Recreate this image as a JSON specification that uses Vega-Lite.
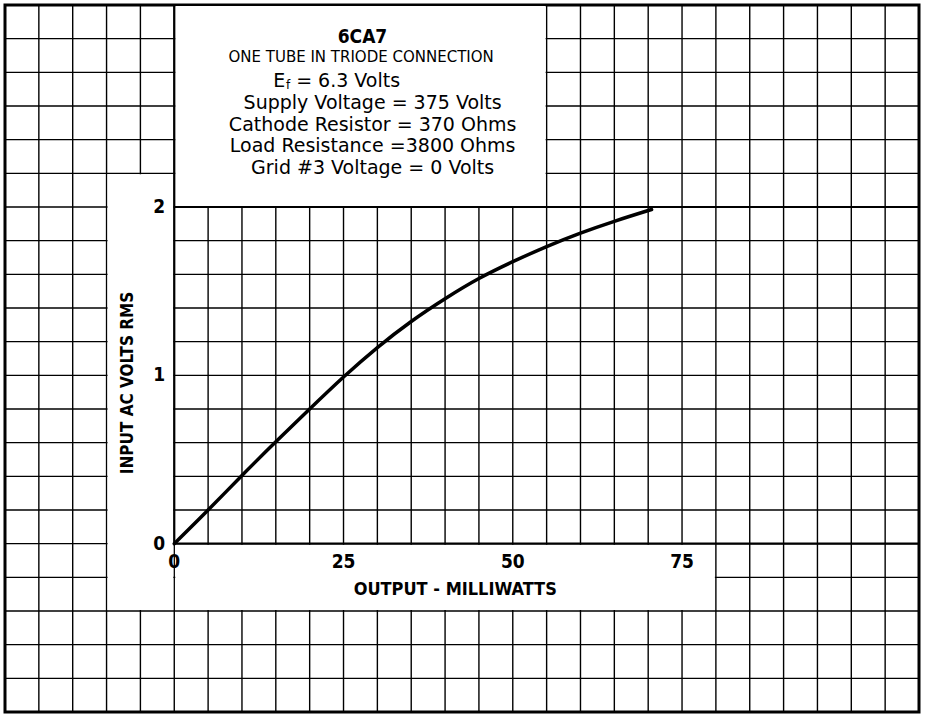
{
  "$schema": "https://vega.github.io/schema/vega-lite/v6.json",
  "autosize": {"type": "none"},
  "width": 914,
  "height": 707,
  "padding": {"left": 5, "top": 5, "right": 9, "bottom": 4},
  "background": "white",
  "data": {"values": [{}]},
  "config": {
    "view": {"stroke": "#000", "strokeWidth": 3},
    "axis": {"disable": true},
    "text": {"color": "#000"}
  },
  "datasets": {
    "curve": [
      {"mw": 0, "v": 0},
      {"mw": 5, "v": 0.2},
      {"mw": 10, "v": 0.405},
      {"mw": 15, "v": 0.605},
      {"mw": 20, "v": 0.8},
      {"mw": 25, "v": 0.99},
      {"mw": 30, "v": 1.165},
      {"mw": 35, "v": 1.32},
      {"mw": 40, "v": 1.455},
      {"mw": 45, "v": 1.575},
      {"mw": 50, "v": 1.675},
      {"mw": 55, "v": 1.765},
      {"mw": 60, "v": 1.845},
      {"mw": 65, "v": 1.915},
      {"mw": 70.5, "v": 1.985}
    ],
    "vgrid": [{"mw": -20}, {"mw": -15}, {"mw": -10}, {"mw": -5}, {"mw": 0}, {"mw": 5}, {"mw": 10}, {"mw": 15}, {"mw": 20}, {"mw": 25}, {"mw": 30}, {"mw": 35}, {"mw": 40}, {"mw": 45}, {"mw": 50}, {"mw": 55}, {"mw": 60}, {"mw": 65}, {"mw": 70}, {"mw": 75}, {"mw": 80}, {"mw": 85}, {"mw": 90}, {"mw": 95}, {"mw": 100}, {"mw": 105}],
    "hgrid": [{"v": -0.8}, {"v": -0.6}, {"v": -0.4}, {"v": -0.2}, {"v": 0}, {"v": 0.2}, {"v": 0.4}, {"v": 0.6}, {"v": 0.8}, {"v": 1}, {"v": 1.2}, {"v": 1.4}, {"v": 1.6}, {"v": 1.8}, {"v": 2}, {"v": 2.2}, {"v": 2.4}, {"v": 2.6}, {"v": 2.8}, {"v": 3}],
    "blank": [
      {"x1": -10, "x2": 0, "y1": -0.4, "y2": 2.2},
      {"x1": 0, "x2": 80, "y1": -0.4, "y2": 0},
      {"x1": 0, "x2": 55, "y1": 2, "y2": 3.2}
    ],
    "xticks": [{"mw": 0}, {"mw": 25}, {"mw": 50}, {"mw": 75}],
    "yticks": [{"v": 0}, {"v": 1}, {"v": 2}]
  },
  "layer": [
    {
      "data": {"name": "vgrid"},
      "mark": {"type": "rule", "color": "#000", "strokeWidth": 1.4},
      "encoding": {
        "x": {"field": "mw", "type": "quantitative", "scale": {"domain": [-25, 110], "nice": false, "zero": false}}
      }
    },
    {
      "data": {"name": "hgrid"},
      "mark": {"type": "rule", "color": "#000", "strokeWidth": 1.4},
      "encoding": {
        "y": {"field": "v", "type": "quantitative", "scale": {"domain": [-1, 3.2], "nice": false, "zero": false}}
      }
    },
    {
      "data": {"name": "blank"},
      "mark": {"type": "rect", "fill": "white", "xOffset": 1, "x2Offset": -1, "yOffset": -1, "y2Offset": 1},
      "encoding": {
        "x": {"field": "x1", "type": "quantitative"},
        "x2": {"field": "x2"},
        "y": {"field": "y1", "type": "quantitative"},
        "y2": {"field": "y2"}
      }
    },
    {
      "mark": {"type": "rule", "color": "#000", "strokeWidth": 2.2},
      "encoding": {"x": {"datum": 0}, "y": {"datum": 0}, "y2": {"datum": 3.2}}
    },
    {
      "mark": {"type": "rule", "color": "#000", "strokeWidth": 2.2},
      "encoding": {"y": {"datum": 0}, "x": {"datum": 0}, "x2": {"datum": 110}}
    },
    {
      "mark": {"type": "rule", "color": "#000", "strokeWidth": 1.8},
      "encoding": {"y": {"datum": 2}, "x": {"datum": 0}, "x2": {"datum": 110}}
    },
    {
      "data": {"name": "curve"},
      "mark": {"type": "line", "color": "#000", "strokeWidth": 3.5, "interpolate": "natural", "strokeCap": "round"},
      "encoding": {
        "x": {"field": "mw", "type": "quantitative"},
        "y": {"field": "v", "type": "quantitative"}
      }
    },
    {
      "data": {"name": "xticks"},
      "mark": {"type": "text", "font": "DejaVu Sans Condensed, Liberation Sans Narrow, DejaVu Sans", "fontWeight": "bold", "fontSize": 19, "baseline": "middle", "align": "center", "dy": 18},
      "encoding": {
        "x": {"field": "mw", "type": "quantitative"},
        "y": {"datum": 0},
        "text": {"field": "mw", "type": "quantitative"}
      }
    },
    {
      "data": {"name": "yticks"},
      "mark": {"type": "text", "font": "DejaVu Sans Condensed, Liberation Sans Narrow, DejaVu Sans", "fontWeight": "bold", "fontSize": 19, "baseline": "middle", "align": "right", "dx": -9},
      "encoding": {
        "x": {"datum": 0},
        "y": {"field": "v", "type": "quantitative"},
        "text": {"field": "v", "type": "quantitative"}
      }
    },
    {
      "mark": {"type": "text", "text": "OUTPUT - MILLIWATTS", "font": "DejaVu Sans Condensed, Liberation Sans Narrow, DejaVu Sans", "fontWeight": "bold", "fontSize": 18, "baseline": "middle", "align": "center"},
      "encoding": {"x": {"datum": 41.5}, "y": {"datum": -0.275}}
    },
    {
      "mark": {"type": "text", "text": "INPUT AC VOLTS RMS", "font": "DejaVu Sans Condensed, Liberation Sans Narrow, DejaVu Sans", "fontWeight": "bold", "fontSize": 17, "baseline": "middle", "align": "center", "angle": 270},
      "encoding": {"x": {"datum": -6.8}, "y": {"datum": 0.955}}
    },
    {
      "mark": {"type": "text", "text": "6CA7", "font": "DejaVu Sans Condensed, Liberation Sans Narrow, DejaVu Sans", "fontWeight": "bold", "fontSize": 19, "baseline": "middle", "align": "center"},
      "encoding": {"x": {"datum": 27.8}, "y": {"datum": 3.01}}
    },
    {
      "mark": {"type": "text", "text": "ONE TUBE IN TRIODE CONNECTION", "font": "DejaVu Sans", "fontSize": 15, "baseline": "middle", "align": "center"},
      "encoding": {"x": {"datum": 27.6}, "y": {"datum": 2.89}}
    },
    {
      "mark": {"type": "text", "text": "E", "font": "DejaVu Sans", "fontSize": 19, "baseline": "middle", "align": "right"},
      "encoding": {"x": {"datum": 16.4}, "y": {"datum": 2.75}}
    },
    {
      "mark": {"type": "text", "text": "f", "font": "DejaVu Sans", "fontSize": 12, "baseline": "middle", "align": "left", "dy": 4},
      "encoding": {"x": {"datum": 16.5}, "y": {"datum": 2.75}}
    },
    {
      "mark": {"type": "text", "text": "= 6.3 Volts", "font": "DejaVu Sans", "fontSize": 19, "baseline": "middle", "align": "left"},
      "encoding": {"x": {"datum": 18.0}, "y": {"datum": 2.75}}
    },
    {
      "mark": {"type": "text", "text": ["Supply Voltage = 375 Volts", "Cathode Resistor = 370 Ohms", "Load Resistance =3800 Ohms", "Grid #3 Voltage = 0 Volts"], "font": "DejaVu Sans", "fontSize": 19, "lineHeight": 21.7, "baseline": "middle", "align": "center"},
      "encoding": {"x": {"datum": 29.3}, "y": {"datum": 2.618}}
    }
  ]
}
